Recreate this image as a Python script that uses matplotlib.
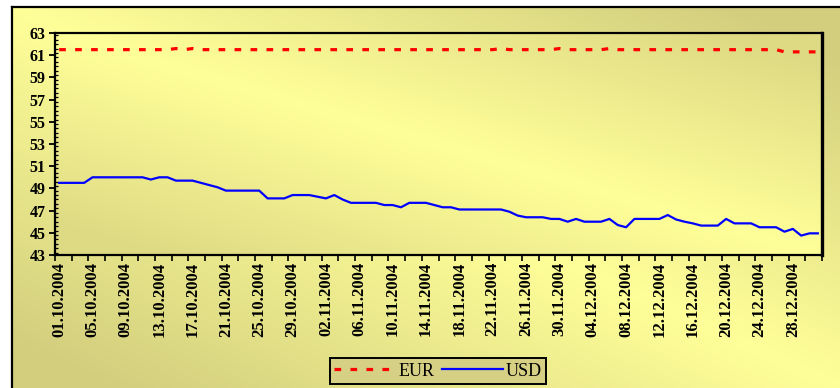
import matplotlib
matplotlib.use("Agg")
import matplotlib.pyplot as plt
import numpy as np
import pandas as pd
from matplotlib.ticker import MultipleLocator, FixedLocator
from matplotlib.colors import to_rgb

plt.rcParams["lines.scale_dashes"] = False

# daily rates, 01.10.2004 .. 31.12.2004
dates = pd.date_range("2004-10-01", "2004-12-31", freq="D")
usd = [
    49.5, 49.5, 49.5, 49.5, 50.0, 50.0, 50.0, 50.0, 50.0, 50.0,
    50.0, 49.8, 50.0, 50.0, 49.7, 49.7, 49.7, 49.5, 49.3, 49.1,
    48.8, 48.8, 48.8, 48.8, 48.8, 48.1, 48.1, 48.1, 48.4, 48.4,
    48.4, 48.25, 48.1, 48.4, 48.0, 47.7, 47.7, 47.7, 47.7, 47.5,
    47.5, 47.3, 47.7, 47.7, 47.7, 47.5, 47.3, 47.3, 47.1, 47.1,
    47.1, 47.1, 47.1, 47.1, 46.9, 46.55, 46.4, 46.4, 46.4, 46.25,
    46.25, 46.0, 46.25, 46.0, 46.0, 46.0, 46.25, 45.7, 45.5, 46.25,
    46.25, 46.25, 46.25, 46.6, 46.2, 46.0, 45.85, 45.65, 45.65, 45.65,
    46.25, 45.85, 45.85, 45.85, 45.5, 45.5, 45.5, 45.1, 45.35, 44.75,
    44.95, 44.95,
]
eur = [61.5] * 92
for d in (14, 16, 53, 60, 66):
    eur[d] = 61.6
for d in range(87, 92):
    eur[d] = 61.3

y_ticks = list(range(43, 64, 2))
label_step = 4

W, H = 840, 388
BRIGHT = "#FFFF99"
DARK_OUT = "#D2CE7E"
DARK_IN = "#DEDA84"


def diag_gradient(dark, bright, n=300):
    """Bright along the main diagonal, darkening toward the off corners."""
    u = np.linspace(0, 1, n)[None, :]
    v = np.linspace(0, 1, n)[:, None]
    t = np.clip(np.abs(u - v) * 1.15, 0, 1)[..., None]
    b = np.array(to_rgb(bright))
    d = np.array(to_rgb(dark))
    return b * (1 - t) + d * t


fig = plt.figure(figsize=(W / 100, H / 100), dpi=100, facecolor="white")

# chart area with its frame
bg = fig.add_axes([12 / W, -0.01, 1 - 12 / W + 0.01, (H - 7) / H + 0.01], zorder=0)
bg.imshow(diag_gradient(DARK_OUT, BRIGHT), aspect="auto", extent=(0, 1, 0, 1))
bg.set_xticks([]); bg.set_yticks([])
for side in ("right", "bottom"):
    bg.spines[side].set_visible(False)
for side in ("left", "top"):
    bg.spines[side].set_linewidth(1.6)

rect = [55 / W, 1 - 255 / H, (822 - 55) / W, (255 - 33) / H]
pbg = fig.add_axes(rect, zorder=1)
pbg.imshow(diag_gradient(DARK_IN, BRIGHT), aspect="auto", extent=(0, 1, 0, 1))
pbg.axis("off")

ax = fig.add_axes(rect, zorder=2)
ax.patch.set_alpha(0)
x = np.arange(len(dates))
ax.plot(x, eur, color="#FF0000", lw=2.3, dashes=(4.8, 6.7), label="EUR")
ax.plot(x, usd, color="#0000FF", lw=1.6, label="USD")

ax.set_xlim(-0.5, len(dates) - 0.5)
ax.set_ylim(43, 63)

ax.set_yticks(y_ticks)
ax.set_yticklabels([str(v) for v in y_ticks])
ax.yaxis.set_minor_locator(MultipleLocator(0.4))
ax.tick_params(axis="y", which="major", direction="out", length=4, width=1.3, pad=3)
ax.tick_params(axis="y", which="minor", direction="in", length=2.5, width=0.9)

lab_pos = x[::label_step]
ax.set_xticks(lab_pos)
ax.set_xticklabels([d.strftime("%d.%m.%Y") for d in dates[::label_step]], rotation=90)
ax.xaxis.set_minor_locator(FixedLocator(np.arange(-0.5, len(dates), 2)))
ax.tick_params(axis="x", which="major", length=0, pad=5)
ax.tick_params(axis="x", which="minor", direction="out", length=4, width=1.2)

for lab in ax.get_yticklabels():
    lab.set_family("Liberation Serif")
    lab.set_fontweight("bold")
    lab.set_fontsize(11.5)
for lab in ax.get_xticklabels():
    lab.set_family("Liberation Serif")
    lab.set_fontweight("bold")
    lab.set_fontsize(12)

for side in ax.spines.values():
    side.set_linewidth(1.6)
ax.spines["right"].set_linewidth(2.4)

leg = ax.legend(loc="center", bbox_to_anchor=(438 / W, 1 - 371 / H),
                bbox_transform=fig.transFigure, ncol=2, frameon=True,
                fancybox=False, handlelength=3.4, handletextpad=0.15,
                columnspacing=0.4, borderpad=0.25, borderaxespad=0,
                prop={"family": "Liberation Serif", "size": 13})
leg.get_frame().set_facecolor("#D6D084")
leg.get_frame().set_edgecolor("black")
leg.get_frame().set_linewidth(1.4)
leg.get_frame().set_alpha(1)

fig.savefig("out.png", dpi=100, facecolor="white")
